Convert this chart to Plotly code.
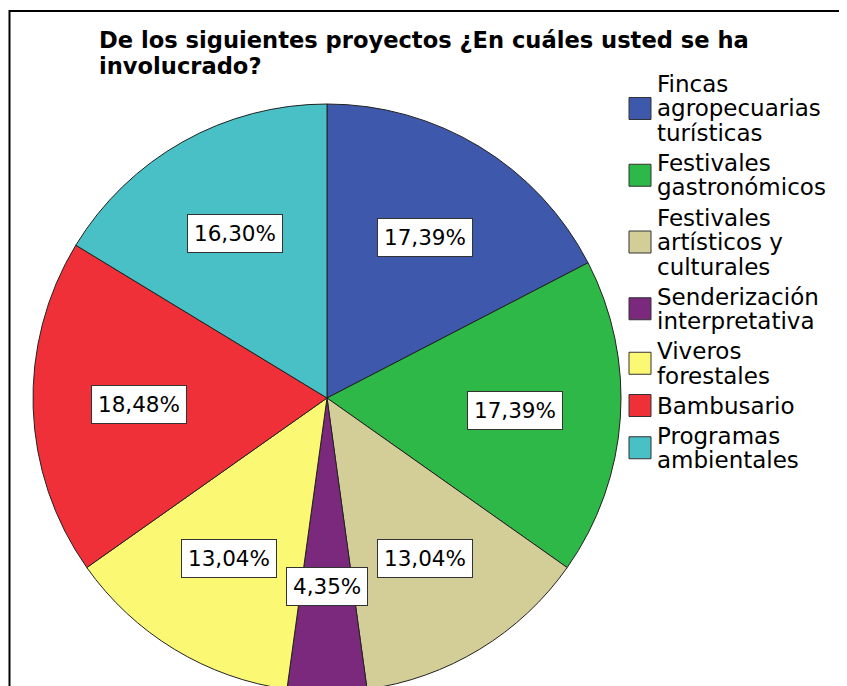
import math
import plotly.graph_objects as go

# Data
categories = ["Fincas<br>agropecuarias<br>turísticas",
              "Festivales<br>gastronómicos",
              "Festivales<br>artísticos y<br>culturales",
              "Senderización<br>interpretativa",
              "Viveros<br>forestales",
              "Bambusario",
              "Programas<br>ambientales"]
percentages = [17.39, 17.39, 13.04, 4.35, 13.04, 18.48, 16.30]
colors = ["#3E58AC", "#2EB848", "#D3CE97", "#7A297D", "#FBF873", "#EF3038", "#48C0C5"]

title_lines = ["De los siguientes proyectos ¿En cuáles usted se ha", "involucrado?"]

# page body has an 8px margin, so the figure is a bit smaller and runs past the bottom
W, H = 839, 690
FONT = "DejaVu Sans"

# pie geometry (figure pixels)
top_px = 96
bottom_px = 684
r_px = (bottom_px - top_px) / 2
cx_px = 319
cy_px = top_px + r_px

def px(x):
    return x / W

def py(y):
    return 1 - y / H

fig = go.Figure()
fig.add_trace(go.Pie(
    labels=categories,
    values=percentages,
    sort=False,
    direction="clockwise",
    rotation=0,
    marker=dict(colors=colors, line=dict(color="#222222", width=1)),
    textinfo="none",
    hoverinfo="label+percent",
    showlegend=False,
    domain=dict(x=[px(cx_px - r_px), px(cx_px + r_px)], y=[py(bottom_px), py(top_px)]),
))

annotations = []

# title, two lines
for i, line in enumerate(title_lines):
    annotations.append(dict(
        x=px(89), y=py(32 + 26.5 * i), xref="paper", yref="paper",
        xanchor="left", yanchor="middle", text="<b>" + line + "</b>", showarrow=False,
        font=dict(family=FONT, size=22.6, color="black")))

# percent labels in white boxes
total = sum(percentages)
cum = 0
for p in percentages:
    mid = (cum + p / 2) / total * 2 * math.pi
    cum += p
    rl = 0.64 * r_px
    x = cx_px + rl * math.sin(mid)
    y = cy_px - rl * math.cos(mid)
    annotations.append(dict(
        x=px(x), y=py(y), xref="paper", yref="paper",
        xanchor="center", yanchor="middle",
        text=f"{p:.2f}".replace(".", ",") + "%",
        showarrow=False, bgcolor="white", bordercolor="#333333",
        borderwidth=1, borderpad=6,
        font=dict(family=FONT, size=21.5, color="black")))

# legend drawn by hand
shapes = []
y = 76
for name, col in zip(categories, colors):
    lines = name.split("<br>")
    first = y
    for i, line in enumerate(lines):
        annotations.append(dict(
            x=px(647), y=py(y), xref="paper", yref="paper",
            xanchor="left", yanchor="middle", text=line, showarrow=False,
            font=dict(family=FONT, size=23, color="black")))
        if i < len(lines) - 1:
            y += 24.5
    mid = (first + y) / 2
    shapes.append(dict(type="rect", xref="paper", yref="paper",
                       x0=px(621), x1=px(643), y0=py(mid - 11), y1=py(mid + 11),
                       fillcolor=col, line=dict(color="#333333", width=1)))
    y += 30

# frame lines
shapes.append(dict(type="line", xref="paper", yref="paper",
                   x0=px(1), x1=1, y0=py(3), y1=py(3),
                   line=dict(color="black", width=2)))
shapes.append(dict(type="line", xref="paper", yref="paper",
                   x0=px(1.5), x1=px(1.5), y0=py(2), y1=0,
                   line=dict(color="black", width=2)))

fig.update_layout(
    width=W, height=H,
    margin=dict(l=0, r=0, t=0, b=0),
    paper_bgcolor="white",
    annotations=annotations,
    shapes=shapes,
)

# the figure is cut at the bottom like the original, so hide the page scrollbars
fig.write_html("out.html", post_script="document.body.style.overflow='hidden';")
